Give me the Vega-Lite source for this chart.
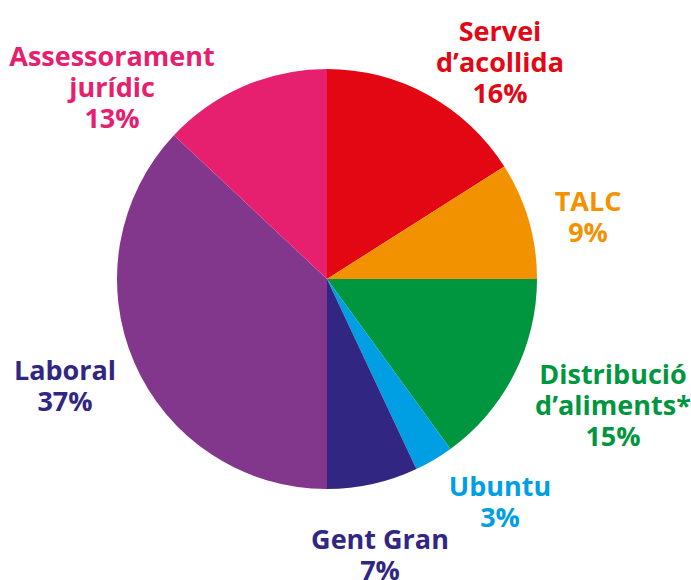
{
  "$schema": "https://vega.github.io/schema/vega-lite/v6.json",
  "width": 654,
  "height": 558,
  "autosize": {"type": "none"},
  "padding": {"left": 0, "top": 0, "right": 37, "bottom": 22},
  "background": "white",
  "view": {"stroke": null},
  "config": {"text": {"font": "Open Sans", "fontWeight": "bold", "fontSize": 27, "lineHeight": 31, "align": "center", "baseline": "middle"}},
  "data": {"values": [
    {"category": "Servei d'acollida", "value": 16, "order": 1, "label": ["Servei", "d’acollida", "16%"]},
    {"category": "TALC", "value": 9, "order": 2, "label": ["TALC", "9%"]},
    {"category": "Distribució d'aliments*", "value": 15, "order": 3, "label": ["Distribució", "d’aliments*", "15%"]},
    {"category": "Ubuntu", "value": 3, "order": 4, "label": ["Ubuntu", "3%"]},
    {"category": "Gent Gran", "value": 7, "order": 5, "label": ["Gent Gran", "7%"]},
    {"category": "Laboral", "value": 37, "order": 6, "label": ["Laboral", "37%"]},
    {"category": "Assessorament jurídic", "value": 13, "order": 7, "label": ["Assessorament", "jurídic", "13%"]}
  ]},
  "layer": [
    {
      "mark": {"type": "arc", "outerRadius": 210, "stroke": null},
      "encoding": {
        "theta": {"field": "value", "type": "quantitative", "stack": true},
        "order": {"field": "order", "type": "quantitative"},
        "color": {"field": "category", "type": "nominal", "legend": null,
          "scale": {"domain": ["Servei d'acollida", "TALC", "Distribució d'aliments*", "Ubuntu", "Gent Gran", "Laboral", "Assessorament jurídic"],
                    "range": ["#E30613", "#F39200", "#009640", "#009FE3", "#312783", "#82368C", "#E6206F"]}}
      }
    },
    {"transform": [{"filter": "datum.category === \"Servei d'acollida\""}], "mark": {"type": "text", "dx": 173, "dy": -246, "color": "#E30613"}, "encoding": {"text": {"field": "label"}}},
    {"transform": [{"filter": "datum.category === 'TALC'"}], "mark": {"type": "text", "dx": 261, "dy": -76, "color": "#F39200"}, "encoding": {"text": {"field": "label"}}},
    {"transform": [{"filter": "datum.category === \"Distribució d'aliments*\""}], "mark": {"type": "text", "dx": 286, "dy": 97, "color": "#009640"}, "encoding": {"text": {"field": "label"}}},
    {"transform": [{"filter": "datum.category === 'Ubuntu'"}], "mark": {"type": "text", "dx": 173, "dy": 209, "color": "#009FE3"}, "encoding": {"text": {"field": "label"}}},
    {"transform": [{"filter": "datum.category === 'Gent Gran'"}], "mark": {"type": "text", "dx": 53, "dy": 262, "color": "#312783"}, "encoding": {"text": {"field": "label"}}},
    {"transform": [{"filter": "datum.category === 'Laboral'"}], "mark": {"type": "text", "dx": -262, "dy": 93, "color": "#312783"}, "encoding": {"text": {"field": "label"}}},
    {"transform": [{"filter": "datum.category === 'Assessorament jurídic'"}], "mark": {"type": "text", "dx": -215, "dy": -221, "color": "#E6206F"}, "encoding": {"text": {"field": "label"}}}
  ]
}
